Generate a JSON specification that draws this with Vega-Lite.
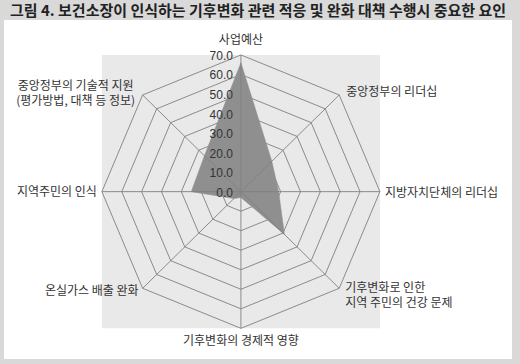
{
  "$schema": "https://vega.github.io/schema/vega-lite/v6.json",
  "width": 508,
  "height": 339,
  "autosize": {"type": "none"},
  "padding": {"left": 4, "top": 20, "right": 8, "bottom": 5},
  "background": "#d9d9d9",
  "title": {
    "text": "그림 4. 보건소장이 인식하는 기후변화 관련 적응 및 완화 대책 수행시 중요한 요인",
    "font": "Noto Sans CJK KR",
    "fontSize": 15,
    "fontWeight": "bold",
    "color": "#222222",
    "anchor": "middle",
    "frame": "group",
    "baseline": "alphabetic",
    "offset": 3,
    "dy": 14
  },
  "config": {"view": {"fill": "white", "stroke": null}, "font": "Noto Sans CJK KR"},
  "datasets": {
    "factors": [
      {"k": 0, "label": "사업예산", "value": 66},
      {"k": 1, "label": "중앙정부의 리더십", "value": 22},
      {"k": 2, "label": "지방자치단체의 리더십", "value": 19},
      {"k": 3, "label": ["기후변화로 인한", "지역 주민의 건강 문제"], "value": 31},
      {"k": 4, "label": "기후변화의 경제적 영향", "value": 3},
      {"k": 5, "label": "온실가스 배출 완화", "value": 5},
      {"k": 6, "label": "지역주민의 인식", "value": 25},
      {"k": 7, "label": ["중앙정부의 기술적 지원", "(평가방법, 대책 등 정보)"], "value": 26}
    ],
    "ticks": [
      {"tick": 0}, {"tick": 10}, {"tick": 20}, {"tick": 30},
      {"tick": 40}, {"tick": 50}, {"tick": 60}, {"tick": 70}
    ]
  },
  "layer": [
    {
      "data": {"name": "ticks"},
      "transform": [
        {"filter": "datum.tick == 70"},
        {"calculate": "-datum.tick", "as": "lo"}
      ],
      "mark": {"type": "rect", "fill": "#e9e9e9"},
      "encoding": {
        "x": {"field": "lo", "type": "quantitative", "scale": {"domain": [-119.3, 136.5], "nice": false, "zero": false}, "axis": null},
        "x2": {"field": "tick"},
        "y": {"field": "lo", "type": "quantitative", "scale": {"domain": [-85.7, 87.9], "nice": false, "zero": false}, "axis": null},
        "y2": {"field": "tick"}
      }
    },
    {
      "data": {"name": "ticks"},
      "transform": [
        {"filter": "datum.tick > 0"},
        {"calculate": "[0,1,2,3,4,5,6,7]", "as": "ks"},
        {"flatten": ["ks"]},
        {"calculate": "datum.tick * sin(datum.ks * PI / 4)", "as": "gx"},
        {"calculate": "datum.tick * cos(datum.ks * PI / 4)", "as": "gy"}
      ],
      "mark": {"type": "line", "interpolate": "linear-closed", "stroke": "#808080", "strokeWidth": 0.9},
      "encoding": {
        "x": {"field": "gx", "type": "quantitative", "scale": {"domain": [-119.3, 136.5], "nice": false, "zero": false}, "axis": null},
        "y": {"field": "gy", "type": "quantitative", "scale": {"domain": [-85.7, 87.9], "nice": false, "zero": false}, "axis": null},
        "detail": {"field": "tick", "type": "nominal"},
        "order": {"field": "ks", "type": "quantitative"}
      }
    },
    {
      "data": {"name": "factors"},
      "transform": [
        {"calculate": "datum.value * sin(datum.k * PI / 4)", "as": "px"},
        {"calculate": "datum.value * cos(datum.k * PI / 4)", "as": "py"}
      ],
      "mark": {"type": "line", "interpolate": "linear-closed", "fill": "#8f8f8f", "stroke": "#8f8f8f", "strokeWidth": 0.5},
      "encoding": {
        "x": {"field": "px", "type": "quantitative", "scale": {"domain": [-119.3, 136.5], "nice": false, "zero": false}, "axis": null},
        "y": {"field": "py", "type": "quantitative", "scale": {"domain": [-85.7, 87.9], "nice": false, "zero": false}, "axis": null},
        "order": {"field": "k", "type": "quantitative"}
      }
    },
    {
      "data": {"name": "factors"},
      "transform": [
        {"calculate": "70 * sin(datum.k * PI / 4)", "as": "sx"},
        {"calculate": "70 * cos(datum.k * PI / 4)", "as": "sy"},
        {"calculate": "0", "as": "c0"}
      ],
      "mark": {"type": "rule", "stroke": "#808080", "strokeWidth": 0.9},
      "encoding": {
        "x": {"field": "c0", "type": "quantitative", "scale": {"domain": [-119.3, 136.5], "nice": false, "zero": false}, "axis": null},
        "y": {"field": "c0", "type": "quantitative", "scale": {"domain": [-85.7, 87.9], "nice": false, "zero": false}, "axis": null},
        "x2": {"field": "sx"},
        "y2": {"field": "sy"}
      }
    },
    {
      "data": {"name": "ticks"},
      "transform": [{"calculate": "0", "as": "c0"}],
      "mark": {"type": "text", "align": "right", "baseline": "middle", "dx": -8, "dy": 1, "font": "Liberation Sans", "fontSize": 12, "fill": "#333333"},
      "encoding": {
        "x": {"field": "c0", "type": "quantitative", "scale": {"domain": [-119.3, 136.5], "nice": false, "zero": false}, "axis": null},
        "y": {"field": "tick", "type": "quantitative", "scale": {"domain": [-85.7, 87.9], "nice": false, "zero": false}, "axis": null},
        "text": {"field": "tick", "type": "quantitative", "format": ".1f"}
      }
    },
    {
      "data": {"name": "factors"},
      "transform": [
        {"filter": "datum.k == 0"},
        {"calculate": "70 * sin(datum.k * PI / 4)", "as": "lx"},
        {"calculate": "70 * cos(datum.k * PI / 4)", "as": "ly"}
      ],
      "mark": {"type": "text", "align": "center", "baseline": "middle", "dy": -15, "fontSize": 12, "fill": "#333333"},
      "encoding": {
        "x": {"field": "lx", "type": "quantitative", "scale": {"domain": [-119.3, 136.5], "nice": false, "zero": false}, "axis": null},
        "y": {"field": "ly", "type": "quantitative", "scale": {"domain": [-85.7, 87.9], "nice": false, "zero": false}, "axis": null},
        "text": {"field": "label", "type": "nominal"}
      }
    },
    {
      "data": {"name": "factors"},
      "transform": [
        {"filter": "datum.k == 1"},
        {"calculate": "70 * sin(datum.k * PI / 4)", "as": "lx"},
        {"calculate": "70 * cos(datum.k * PI / 4)", "as": "ly"}
      ],
      "mark": {"type": "text", "align": "left", "baseline": "middle", "dx": 7, "dy": -3, "fontSize": 12, "fill": "#333333"},
      "encoding": {
        "x": {"field": "lx", "type": "quantitative", "scale": {"domain": [-119.3, 136.5], "nice": false, "zero": false}, "axis": null},
        "y": {"field": "ly", "type": "quantitative", "scale": {"domain": [-85.7, 87.9], "nice": false, "zero": false}, "axis": null},
        "text": {"field": "label", "type": "nominal"}
      }
    },
    {
      "data": {"name": "factors"},
      "transform": [
        {"filter": "datum.k == 2"},
        {"calculate": "70 * sin(datum.k * PI / 4)", "as": "lx"},
        {"calculate": "70 * cos(datum.k * PI / 4)", "as": "ly"}
      ],
      "mark": {"type": "text", "align": "left", "baseline": "middle", "dx": 5, "dy": 1, "fontSize": 12, "fill": "#333333"},
      "encoding": {
        "x": {"field": "lx", "type": "quantitative", "scale": {"domain": [-119.3, 136.5], "nice": false, "zero": false}, "axis": null},
        "y": {"field": "ly", "type": "quantitative", "scale": {"domain": [-85.7, 87.9], "nice": false, "zero": false}, "axis": null},
        "text": {"field": "label", "type": "nominal"}
      }
    },
    {
      "data": {"name": "factors"},
      "transform": [
        {"filter": "datum.k == 3"},
        {"calculate": "70 * sin(datum.k * PI / 4)", "as": "lx"},
        {"calculate": "70 * cos(datum.k * PI / 4)", "as": "ly"}
      ],
      "mark": {"type": "text", "align": "left", "baseline": "middle", "dx": 6, "dy": 0, "lineHeight": 15, "fontSize": 12, "fill": "#333333"},
      "encoding": {
        "x": {"field": "lx", "type": "quantitative", "scale": {"domain": [-119.3, 136.5], "nice": false, "zero": false}, "axis": null},
        "y": {"field": "ly", "type": "quantitative", "scale": {"domain": [-85.7, 87.9], "nice": false, "zero": false}, "axis": null},
        "text": {"field": "label", "type": "nominal"}
      }
    },
    {
      "data": {"name": "factors"},
      "transform": [
        {"filter": "datum.k == 4"},
        {"calculate": "70 * sin(datum.k * PI / 4)", "as": "lx"},
        {"calculate": "70 * cos(datum.k * PI / 4)", "as": "ly"}
      ],
      "mark": {"type": "text", "align": "center", "baseline": "middle", "dy": 13, "fontSize": 12, "fill": "#333333"},
      "encoding": {
        "x": {"field": "lx", "type": "quantitative", "scale": {"domain": [-119.3, 136.5], "nice": false, "zero": false}, "axis": null},
        "y": {"field": "ly", "type": "quantitative", "scale": {"domain": [-85.7, 87.9], "nice": false, "zero": false}, "axis": null},
        "text": {"field": "label", "type": "nominal"}
      }
    },
    {
      "data": {"name": "factors"},
      "transform": [
        {"filter": "datum.k == 5"},
        {"calculate": "70 * sin(datum.k * PI / 4)", "as": "lx"},
        {"calculate": "70 * cos(datum.k * PI / 4)", "as": "ly"}
      ],
      "mark": {"type": "text", "align": "right", "baseline": "middle", "dx": -4, "dy": 3, "fontSize": 12, "fill": "#333333"},
      "encoding": {
        "x": {"field": "lx", "type": "quantitative", "scale": {"domain": [-119.3, 136.5], "nice": false, "zero": false}, "axis": null},
        "y": {"field": "ly", "type": "quantitative", "scale": {"domain": [-85.7, 87.9], "nice": false, "zero": false}, "axis": null},
        "text": {"field": "label", "type": "nominal"}
      }
    },
    {
      "data": {"name": "factors"},
      "transform": [
        {"filter": "datum.k == 6"},
        {"calculate": "70 * sin(datum.k * PI / 4)", "as": "lx"},
        {"calculate": "70 * cos(datum.k * PI / 4)", "as": "ly"}
      ],
      "mark": {"type": "text", "align": "right", "baseline": "middle", "dx": -5, "dy": 0, "fontSize": 12, "fill": "#333333"},
      "encoding": {
        "x": {"field": "lx", "type": "quantitative", "scale": {"domain": [-119.3, 136.5], "nice": false, "zero": false}, "axis": null},
        "y": {"field": "ly", "type": "quantitative", "scale": {"domain": [-85.7, 87.9], "nice": false, "zero": false}, "axis": null},
        "text": {"field": "label", "type": "nominal"}
      }
    },
    {
      "data": {"name": "factors"},
      "transform": [
        {"filter": "datum.k == 7"},
        {"calculate": "70 * sin(datum.k * PI / 4)", "as": "lx"},
        {"calculate": "70 * cos(datum.k * PI / 4)", "as": "ly"}
      ],
      "mark": {"type": "text", "align": "center", "baseline": "middle", "dx": -67, "dy": -9, "lineHeight": 15, "fontSize": 12, "fill": "#333333"},
      "encoding": {
        "x": {"field": "lx", "type": "quantitative", "scale": {"domain": [-119.3, 136.5], "nice": false, "zero": false}, "axis": null},
        "y": {"field": "ly", "type": "quantitative", "scale": {"domain": [-85.7, 87.9], "nice": false, "zero": false}, "axis": null},
        "text": {"field": "label", "type": "nominal"}
      }
    }
  ]
}
